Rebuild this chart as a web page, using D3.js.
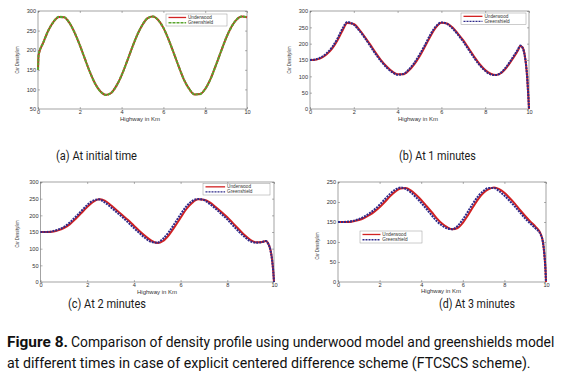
<!DOCTYPE html>
<html><head><meta charset="utf-8">
<script src="https://cdn.jsdelivr.net/npm/d3@7"></script>
<style>body{margin:0;background:#fff}svg{display:block}</style>
</head><body><svg id="c" width="566" height="379"></svg>
<script>
// ---------- data ----------
const seriesNames = ["Underwood", "Greenshield"];
const subCaptions = ["(a) At initial time", "(b) At 1 minutes", "(c) At 2 minutes", "(d) At 3 minutes"];
const xTicks = [0, 2, 4, 6, 8, 10];
const yTicksA = [50, 100, 150, 200, 250, 300];
const yTicksB = [0, 50, 100, 150, 200, 250, 300];
const yTicksC = [0, 50, 100, 150, 200, 250, 300];
const yTicksD = [0, 50, 100, 150, 200, 250];
const xLabel = "Highway in Km";
const yLabel = "Car Density/km";
const captionBold = "Figure 8.";
const captionLine1 = "Comparison of density profile using underwood model and greenshields model";
const captionLine2 = "at different times in case of explicit centered difference scheme (FTCSCS scheme).";

const xA = [0,0.03,0.25,0.5,0.75,1,1.25,1.5,1.75,2,2.25,2.5,2.75,3,3.25,3.5,3.75,4,4.25,4.5,4.75,5,5.25,5.5,5.75,6,6.25,6.5,6.75,7,7.25,7.5,7.75,8,8.25,8.5,8.75,9,9.25,9.5,9.75,10];
const underwoodA = [150,188,219,251,273,285,284,270,245,213,177,142,113,94,86,91,109,136,170,206,239,265,282,286,277,257,227,192,156,123,100,87,88,101,126,160,196,231,259,278,286,284];
const greenshieldA = [150,188,219,251,273,285,284,270,245,213,177,142,113,94,86,91,109,136,170,206,239,265,282,286,277,257,227,192,156,123,100,87,88,101,126,160,196,231,259,278,286,284];

const xB = [0,0.25,0.5,0.75,1,1.25,1.5,1.7,2,2.25,2.5,2.75,3,3.25,3.5,3.75,4,4.25,4.5,4.75,5,5.25,5.5,5.75,6,6.25,6.5,6.75,7,7.25,7.5,7.75,8,8.25,8.5,8.75,9,9.25,9.5,9.6,9.7,9.8,9.9,9.95,10];
const underwoodB = [150,151,156,167,184,210,242,263,260,243,221,197,172,149,130,115,106,106,117,136,161,191,223,250,264,262,250,231,210,185,160,137,119,108,104,111,129,153,180,193,189,167,112,62,0];
const greenshieldB = [150,152,158,170,188,215,248,266,258,240,218,193,168,146,127,113,105,107,120,140,166,196,228,253,265,261,247,228,206,181,156,134,117,106,104,113,132,157,183,194,188,165,110,60,0];

const xC = [0,0.25,0.5,0.75,1,1.25,1.5,1.75,2,2.25,2.5,2.75,3,3.25,3.5,3.75,4,4.25,4.5,4.75,5,5.25,5.5,5.75,6,6.25,6.5,6.75,7,7.25,7.5,7.75,8,8.25,8.5,8.75,9,9.25,9.5,9.65,9.75,9.85,9.92,9.97,10];
const underwoodC = [150,150,151,155,162,173,189,207,225,240,248,244,231,216,201,186,169,152,137,124,117,123,141,166,193,219,238,248,247,239,225,210,194,176,158,140,126,119,120,123,116,96,66,30,0];
const greenshieldC = [150,150,152,157,165,178,195,213,231,244,248,239,225,210,195,179,162,146,131,120,118,130,150,176,203,227,243,249,246,234,220,204,188,169,151,135,122,118,120,123,115,95,65,30,0];

const xD = [0,0.25,0.5,0.75,1,1.25,1.5,1.75,2,2.25,2.5,2.75,3,3.25,3.5,3.75,4,4.25,4.5,4.75,5,5.25,5.5,5.75,6,6.25,6.5,6.75,7,7.25,7.5,7.75,8,8.25,8.5,8.75,9,9.25,9.5,9.75,9.85,9.92,9.97,10];
const underwoodD = [150,150,150,152,155,160,167,176,187,200,214,226,234,235,229,218,205,190,175,159,146,137,132,135,148,167,188,208,223,232,236,232,223,210,196,180,165,151,138,120,101,70,35,0];
const greenshieldD = [150,150,151,153,157,163,171,181,193,207,220,231,236,233,224,212,198,183,167,152,141,134,132,140,156,176,197,215,228,235,235,227,216,203,189,174,159,146,134,118,100,70,35,0];

// ---------- layout ----------
const svg = d3.select("#c");
const COL_RED = "#d22222", COL_GREEN = "#5aa52e", COL_BLUE = "#2f2a8a";

const panels = [
  {x: xA, u: underwoodA, g: greenshieldA, yDom: [50,300], yTicks: yTicksA, gCol: COL_GREEN, gDash: "3,1",
   box: [38,247,11,109], leg: [166,14,61,12], yl: [19,60], xl: [140,120.5]},
  {x: xB, u: underwoodB, g: greenshieldB, yDom: [0,300], yTicks: yTicksB, gCol: COL_BLUE, gDash: "2,1",
   box: [310,529,11,109], leg: [461,13,65,11.5], yl: [291,60], xl: [418,120.5]},
  {x: xC, u: underwoodC, g: greenshieldC, yDom: [0,300], yTicks: yTicksC, gCol: COL_BLUE, gDash: "2,1",
   box: [40.5,274,182,282], leg: [203,183.5,67,11.5], yl: [19,234], xl: [157,293.5]},
  {x: xD, u: underwoodD, g: greenshieldD, yDom: [0,250], yTicks: yTicksD, gCol: COL_BLUE, gDash: "2,1",
   box: [338,546,182,282], leg: [360,231,62,12], yl: [319,246], xl: [441,293]}
];

function fitText(sel, x, y, targetW) {
  const w = sel.node().getComputedTextLength();
  sel.attr("x", 0).attr("y", 0).attr("transform", `translate(${x},${y}) scale(${targetW / w},1)`);
}

panels.forEach((p) => {
  const [L, R, T, B] = p.box;
  const xs = d3.scaleLinear().domain([0,10]).range([L,R]);
  const ys = d3.scaleLinear().domain(p.yDom).range([B,T]);
  const g = svg.append("g");

  g.append("rect").attr("x",L).attr("y",T).attr("width",R-L).attr("height",B-T)
    .attr("fill","#fff").attr("stroke","#666").attr("stroke-width",0.6);

  g.append("g").attr("transform",`translate(0,${B})`)
    .call(d3.axisBottom(xs).tickValues(xTicks).tickSize(-2).tickPadding(0.6).tickFormat(d3.format("d")));
  g.append("g").attr("transform",`translate(${L},0)`)
    .call(d3.axisLeft(ys).tickValues(p.yTicks).tickSize(-2).tickPadding(2).tickFormat(d3.format("d")));
  g.append("g").attr("transform",`translate(0,${T})`)
    .call(d3.axisTop(xs).tickValues(xTicks).tickSize(-2).tickFormat(""));
  g.append("g").attr("transform",`translate(${R},0)`)
    .call(d3.axisRight(ys).tickValues(p.yTicks).tickSize(-2).tickFormat(""));
  g.selectAll(".domain").remove();
  g.selectAll(".tick line").attr("stroke","#666").attr("stroke-width",0.5);
  g.selectAll(".tick text").attr("font-family","Liberation Sans, Arial, sans-serif")
    .attr("font-size",5.6).attr("fill","#333");

  const line = (vals) => d3.line().x((d,i)=>xs(p.x[i])).y(d=>ys(d)).curve(d3.curveMonotoneX)(vals);

  g.append("path").attr("d", line(p.u)).attr("fill","none").attr("stroke",COL_RED).attr("stroke-width",2);
  g.append("path").attr("d", line(p.g)).attr("fill","none").attr("stroke",p.gCol)
    .attr("stroke-width",2.1).attr("stroke-dasharray",p.gDash);

  // axis labels
  g.append("text").attr("x",p.xl[0]).attr("y",p.xl[1]).attr("text-anchor","middle")
    .attr("font-family","Liberation Sans, Arial, sans-serif").attr("font-size",6).attr("fill","#333").text(xLabel);
  g.append("text").attr("transform",`translate(${p.yl[0]},${p.yl[1]}) rotate(-90)`).attr("text-anchor","middle")
    .attr("font-family","Liberation Sans, Arial, sans-serif").attr("font-size",5).attr("fill","#333")
    .attr("textLength",27).attr("lengthAdjust","spacingAndGlyphs").text(yLabel);

  // legend
  const [lx, ly, lw, lh] = p.leg;
  const lg = g.append("g");
  lg.append("rect").attr("x",lx).attr("y",ly).attr("width",lw).attr("height",lh)
    .attr("fill","#fff").attr("stroke","#999").attr("stroke-width",0.5);
  const rows = [{n: seriesNames[0], c: COL_RED, d: null}, {n: seriesNames[1], c: p.gCol, d: p.gDash}];
  rows.forEach((r, i) => {
    const cy = ly + lh * (i === 0 ? 0.29 : 0.73);
    lg.append("line").attr("x1",lx+2.5).attr("x2",lx+lw*0.33).attr("y1",cy).attr("y2",cy)
      .attr("stroke",r.c).attr("stroke-width",1.3).attr("stroke-dasharray",r.d);
    lg.append("text").attr("x",lx+lw*0.36).attr("y",cy+1.6)
      .attr("font-family","Liberation Sans, Arial, sans-serif").attr("font-size",4.7).attr("fill","#333").text(r.n);
  });
});

// sub captions
const subPos = [[56,160,81],[399,160,77],[68,308,78],[439,308,76]];
subCaptions.forEach((t,i) => {
  const s = svg.append("text").attr("font-family","Roboto, sans-serif").attr("font-size",12.5)
    .attr("fill","#1a1a1a").text(t);
  fitText(s, subPos[i][0], subPos[i][1], subPos[i][2]);
});

// figure caption
const capFont = "Roboto, sans-serif";
const c0 = svg.append("text").attr("font-family",capFont).attr("font-size",15.5)
  .attr("font-weight","bold").attr("fill","#111").text(captionBold);
fitText(c0, 7, 347, 61);
const c1 = svg.append("text").attr("font-family",capFont).attr("font-size",15.5)
  .attr("fill","#111").text(captionLine1);
fitText(c1, 71, 347, 484);
const c2 = svg.append("text").attr("font-family",capFont).attr("font-size",15.5)
  .attr("fill","#111").text(captionLine2);
fitText(c2, 7, 368, 524);
</script>
</body></html>
